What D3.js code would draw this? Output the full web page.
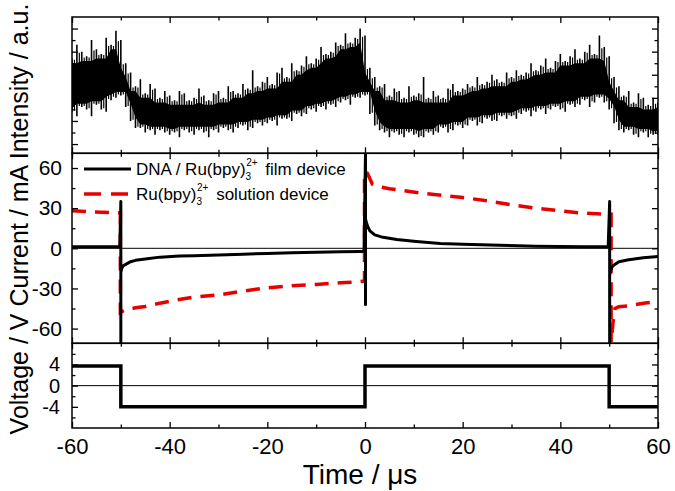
<!DOCTYPE html>
<html><head><meta charset="utf-8">
<script src="https://cdn.jsdelivr.net/npm/d3@7"></script>
<style>
html,body{margin:0;padding:0;background:#fff;}
text{font-family:"Liberation Sans",Arial,sans-serif;fill:#000;}
</style></head>
<body><svg id="c" width="675" height="491"></svg>
<script>
// ---- data ----
const timeRange = [-60, 60];
const xMajorTicks = [-60, -40, -20, 0, 20, 40, 60];
const xMinorTicks = [-50, -30, -10, 10, 30, 50];
const currentTicks = [-60, -30, 0, 30, 60];
const currentMinor = [-45, -15, 15, 45];
const voltageTicks = [-4, 0, 4];
const voltageMinor = [-6, -2, 2, 6];
const intensityMajor = [1, 2, 3, 4, 5, 6];
const intensityMinor = [1.5, 2.5, 3.5, 4.5, 5.5];

// intensity samples, one per microsecond from -60 to 60 (a.u.)
const intensityTime = d3.range(-60, 61, 1);
const intensityUpper = [
  4.7, 5.3, 5.0, 4.8, 5.5, 5.1, 4.9, 5.6, 5.3, 5.9,
  5.5, 4.5, 4.1, 3.5, 3.8, 3.2, 3.6, 3.4, 3.0, 3.3,
  3.1, 2.9, 3.3, 3.2, 2.9, 3.0, 3.4, 3.1, 2.9, 3.2,
  3.3, 3.0, 3.5, 3.3, 3.2, 3.6, 3.4, 4.2, 3.5, 3.7,
  3.9, 3.6, 4.1, 4.3, 3.9, 4.5, 4.2, 4.4, 4.8, 4.5,
  4.7, 5.2, 4.9, 5.0, 5.4, 5.3, 5.8, 5.4, 5.6, 6.0,
  5.7, 4.3, 3.9, 3.5, 3.6, 3.1, 3.4, 3.3, 3.0, 3.5,
  3.1, 3.2, 3.9, 3.0, 3.3, 3.1, 3.0, 3.4, 3.6, 3.3,
  3.4, 3.6, 3.5, 3.9, 3.6, 3.7, 4.0, 3.8, 3.7, 4.1,
  3.9, 4.2, 4.0, 4.1, 4.5, 4.2, 4.4, 4.7, 4.3, 4.6,
  4.9, 4.6, 4.8, 5.1, 4.7, 5.0, 5.3, 4.9, 5.7, 5.2,
  4.8, 3.9, 3.5, 3.1, 3.3, 2.8, 3.2, 3.0, 2.7, 3.0, 2.8
];
const intensityLower = [
  2.4, 2.2, 2.6, 2.5, 2.2, 2.7, 2.5, 2.4, 2.9, 3.0,
  3.1, 2.6, 2.0, 1.7, 1.7, 1.5, 1.6, 1.4, 1.6, 1.5,
  1.4, 1.5, 1.3, 1.6, 1.5, 1.4, 1.6, 1.5, 1.3, 1.6,
  1.5, 1.7, 1.6, 1.5, 1.7, 1.8, 1.6, 1.7, 1.9, 1.8,
  1.9, 2.0, 1.8, 2.1, 2.1, 2.0, 2.3, 2.2, 2.3, 2.5,
  2.4, 2.6, 2.5, 2.7, 2.6, 2.8, 2.9, 2.7, 3.0, 3.0,
  3.1, 2.3, 1.8, 1.6, 1.5, 1.3, 1.5, 1.4, 1.3, 1.5,
  1.4, 1.3, 1.3, 1.5, 1.4, 1.5, 1.7, 1.5, 1.6, 1.8,
  1.7, 1.8, 2.0, 1.8, 1.9, 2.1, 2.0, 2.0, 2.2, 2.1,
  2.2, 2.1, 2.3, 2.4, 2.2, 2.4, 2.5, 2.3, 2.5, 2.6,
  2.5, 2.4, 2.7, 2.6, 2.7, 2.9, 2.6, 2.8, 3.0, 2.8,
  2.5, 1.9, 1.6, 1.5, 1.6, 1.4, 1.3, 1.5, 1.3, 1.4, 1.4
];

// current, film device (mA)
const filmTime = [-60, -50.2, -50, -50, -50, -49.8, -49.5, -49, -48, -47, -45, -42, -38, -35, -30, -25, -20, -15, -10, -5, -1, -0.2,
  0.1, 0.1, 0.1, 0.3, 0.6, 1, 2, 3.7, 6.5, 10.5, 15.4, 20, 27.6, 35, 40, 45, 49.8,
  50.1, 50.1, 50.1, 50.3, 50.6, 51, 52, 54, 57, 60];
const filmCurrent = [1.2, 1.2, 35, -70, -18, -15, -13, -12, -10, -9, -8, -6.6, -5.8, -5.5, -5.0, -4.4, -3.8, -3.3, -2.9, -2.5, -2.3, -2.3,
  71, -42, 22, 19, 16, 13, 10, 8.2, 6.5, 5, 3.5, 3, 2.3, 1.6, 1.3, 1.2, 1.2,
  35, -70, -20, -17, -14, -12.5, -10, -8.5, -7, -6.2];

// current, solution device (mA)
const solTime = [-60, -57, -54, -51, -50.1, -50.1, -49.6, -49, -47, -45, -42, -38.6, -35, -30, -25, -20, -15, -10, -5, -1, -0.1,
  -0.1, 0.5, 1, 1.5, 3, 5, 8, 12, 16, 20, 25, 30, 35, 40, 44, 48.8, 50.4,
  50.4, 50.8, 51.2, 52, 54, 57, 60];
const solCurrent = [28, 27.5, 27, 26.5, 26.5, -48, -47, -46, -44.5, -43.5, -41, -38.6, -36.5, -34.9, -32, -29.5, -28, -27, -25.8, -24.9, -24.5,
  57, 56, 52, 48, 46, 44.5, 43, 41, 39.5, 38, 35.5, 32.5, 30, 28, 26.5, 25.6, 25.5,
  -70, -55, -45, -43.6, -43, -41, -40];

// applied voltage (V)
const voltTime = [-60, -50, -50, 0, 0, 50, 50, 60];
const voltValue = [3.7, 3.7, -4, -4, 3.7, 3.7, -4, -4];

const legendLabels = [
  {main: "DNA / Ru(bpy)", sub: "3", sup: "2+", tail: " film device", color: "#000", dash: null},
  {main: "Ru(bpy)", sub: "3", sup: "2+", tail: " solution device", color: "#e80000", dash: "17,10"}
];
const yTitle = "Voltage / V Current / mA Intensity / a.u.";
const xTitle = "Time / \u03bcs";

// ---- drawing ----
const FONT = '"Liberation Sans",Arial,sans-serif';
const svg = d3.select("#c");
const L = 72, R = 658;
const pTop = [17, 153.3], pMid = [153.3, 343.3], pBot = [343.3, 428];
const x = d3.scaleLinear().domain(timeRange).range([L, R]);
const yI = d3.scaleLinear().domain([0.6, 6.5]).range([pTop[1], pTop[0]]);
const yC = d3.scaleLinear().domain([-71, 71]).range([pMid[1], pMid[0]]);
const yV = d3.scaleLinear().domain([-8, 8]).range([pBot[1], pBot[0]]);
const fmt = d => String(d);

function frame(p, ys, yMaj, yMin, labels, fs, pad) {
  const g = svg.append("g");
  const tick = (axis, vals, size, tr) => {
    const a = g.append("g").attr("transform", tr)
      .call(axis.tickValues(vals).tickSizeInner(-size).tickSizeOuter(0).tickFormat(""));
    a.select(".domain").remove();
    a.selectAll("line").attr("stroke", "#000").attr("stroke-width", 1.3);
    return a;
  };
  tick(d3.axisTop(x), xMajorTicks, 6, `translate(0,${p[0]})`);
  tick(d3.axisTop(x), xMinorTicks, 3.5, `translate(0,${p[0]})`);
  tick(d3.axisBottom(x), xMajorTicks, 6, `translate(0,${p[1]})`);
  tick(d3.axisBottom(x), xMinorTicks, 3.5, `translate(0,${p[1]})`);
  tick(d3.axisRight(ys), yMaj, 6, `translate(${R},0)`);
  tick(d3.axisRight(ys), yMin, 3.5, `translate(${R},0)`);
  tick(d3.axisLeft(ys), yMin, 3.5, `translate(${L},0)`);
  const la = g.append("g").attr("transform", `translate(${L},0)`)
    .call(d3.axisLeft(ys).tickValues(yMaj).tickSizeInner(-6).tickSizeOuter(0).tickPadding(pad)
      .tickFormat(labels ? fmt : ""));
  la.select(".domain").remove();
  la.selectAll("line").attr("stroke", "#000").attr("stroke-width", 1.3);
  la.selectAll("text").style("font-size", fs + "px").style("font-family", FONT).attr("fill", "#000");
  return g;
}

// clip paths
const defs = svg.append("defs");
[["cT", pTop], ["cM", pMid], ["cB", pBot]].forEach(([id, p]) => {
  defs.append("clipPath").attr("id", id).append("rect")
    .attr("x", L).attr("y", p[0]).attr("width", R - L).attr("height", p[1] - p[0]);
});

// zero lines
svg.append("line").attr("x1", L).attr("x2", R).attr("y1", yC(0)).attr("y2", yC(0))
  .attr("stroke", "#000").attr("stroke-width", 1);
svg.append("line").attr("x1", L).attr("x2", R).attr("y1", yV(0)).attr("y2", yV(0))
  .attr("stroke", "#000").attr("stroke-width", 1);

// intensity: solid core between neighbouring extremes + thin spikes at every sample
const iData = intensityTime.map((t, i) => ({t, lo: intensityLower[i], hi: intensityUpper[i]}));
const n = iData.length;
const core = iData.map((d, i) => {
  const nb = [iData[Math.max(0, i - 1)], d, iData[Math.min(n - 1, i + 1)]];
  return {t: d.t, hi: d3.min(nb, e => e.hi) - 0.2, lo: d3.max(nb, e => e.lo) + 0.15};
});
const gI = svg.append("g").attr("clip-path", "url(#cT)");
gI.append("path").datum(core)
  .attr("d", d3.area().x(d => x(d.t)).y0(d => yI(d.lo)).y1(d => yI(d.hi)))
  .attr("fill", "#000");
gI.selectAll("line.sp").data(iData).join("line").attr("class", "sp")
  .attr("x1", d => x(d.t)).attr("x2", d => x(d.t))
  .attr("y1", d => yI(d.lo)).attr("y2", d => yI(d.hi))
  .attr("stroke", "#000").attr("stroke-width", 1.6);
gI.selectAll("line.sp2").data(iData.slice(0, n - 1)).join("line").attr("class", "sp2")
  .attr("x1", d => x(d.t + 0.5)).attr("x2", d => x(d.t + 0.5))
  .attr("y1", (d, i) => yI(Math.max(d.lo, iData[i + 1].lo) + 0.05))
  .attr("y2", (d, i) => yI(Math.min(d.hi, iData[i + 1].hi) - 0.05))
  .attr("stroke", "#000").attr("stroke-width", 1.2);

// current lines (solution below, film on top)
const film = filmTime.map((t, i) => ({t, v: filmCurrent[i]}));
const sol = solTime.map((t, i) => ({t, v: solCurrent[i]}));
const lc = d3.line().x(d => x(d.t)).y(d => yC(d.v));
svg.append("path").datum(sol).attr("clip-path", "url(#cM)").attr("d", lc)
  .attr("fill", "none").attr("stroke", "#e80000").attr("stroke-width", 3.5).attr("stroke-dasharray", "14,9");
svg.append("path").datum(film).attr("clip-path", "url(#cM)").attr("d", lc)
  .attr("fill", "none").attr("stroke", "#000").attr("stroke-width", 3).attr("stroke-linejoin", "round");

// voltage
const volt = voltTime.map((t, i) => ({t, v: voltValue[i]}));
svg.append("path").datum(volt).attr("clip-path", "url(#cB)")
  .attr("d", d3.line().x(d => x(d.t)).y(d => yV(d.v)))
  .attr("fill", "none").attr("stroke", "#000").attr("stroke-width", 3.5);

// frames and axes
frame(pTop, yI, intensityMajor, intensityMinor, false, 21, 10);
frame(pMid, yC, currentTicks, currentMinor, true, 21, 10);
frame(pBot, yV, voltageTicks, voltageMinor, true, 20, 12);
[pTop, pMid, pBot].forEach(p => {
  svg.append("rect").attr("x", L).attr("y", p[0]).attr("width", R - L).attr("height", p[1] - p[0])
    .attr("fill", "none").attr("stroke", "#000").attr("stroke-width", 1.5);
});

// bottom axis labels
const bx = svg.append("g").attr("transform", `translate(0,${pBot[1]})`)
  .call(d3.axisBottom(x).tickValues(xMajorTicks).tickSizeInner(-6).tickSizeOuter(0).tickPadding(10).tickFormat(fmt));
bx.select(".domain").remove();
bx.selectAll("line").remove();
bx.selectAll("text").style("font-size", "22px").style("font-family", FONT).attr("fill", "#000");

// titles
svg.append("text").attr("x", 360).attr("y", 484).attr("text-anchor", "middle")
  .style("font-size", "28px").text(xTitle);
svg.append("text").attr("transform", "translate(28,219) rotate(-90)").attr("text-anchor", "middle")
  .style("font-size", "25px").text(yTitle);

// legend
legendLabels.forEach((d, i) => {
  const yy = 169 + i * 25;
  svg.append("line").attr("x1", 84).attr("x2", 131).attr("y1", yy).attr("y2", yy)
    .attr("stroke", d.color).attr("stroke-width", i ? 3.5 : 3).attr("stroke-dasharray", d.dash);
  const t = svg.append("text").attr("x", 136).attr("y", yy + 6).style("font-size", "17px");
  t.append("tspan").text(d.main);
  t.append("tspan").attr("dy", 5).style("font-size", "10px").text(d.sub);
  t.append("tspan").attr("dx", -5).attr("dy", -14).style("font-size", "10px").text(d.sup);
  t.append("tspan").attr("dx", 3).attr("dy", 9).text(d.tail);
});
</script></body></html>
